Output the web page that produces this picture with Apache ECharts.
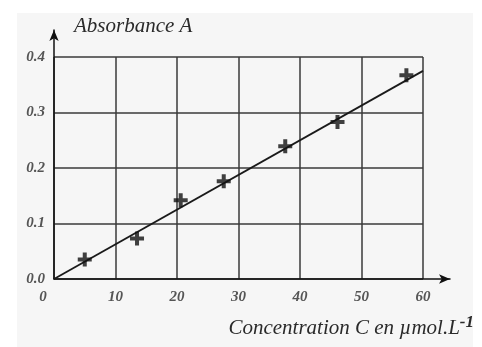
<!DOCTYPE html>
<html>
<head>
<meta charset="utf-8">
<script src="https://cdn.jsdelivr.net/npm/echarts@6/dist/echarts.min.js"></script>
<style>
  html, body { margin: 0; padding: 0; background: #fff; }
  #chart { width: 482px; height: 347px; }
</style>
</head>
<body>
<div id="chart"></div>
<script>
// measured points
var concentration = [5.0, 13.5, 20.6, 27.6, 37.6, 46.1, 57.3];
var absorbance = [0.035, 0.073, 0.142, 0.176, 0.239, 0.283, 0.367];
// straight line through the origin
var fitC = [0, 60];
var fitA = [0, 0.375];
var xTicks = [0, 10, 20, 30, 40, 50, 60];
var yTicks = [0.0, 0.1, 0.2, 0.3, 0.4];

var serif = '"Liberation Serif", "DejaVu Serif", serif';
var plus = 'path://M5,0H9V5H14V9H9V14H5V9H0V5H5Z';

var chart = echarts.init(document.getElementById('chart'));

var points = concentration.map(function (c, i) { return [c, absorbance[i]]; });
var fit = fitC.map(function (c, i) { return [c, fitA[i]]; });

var tickFont = { color: '#555', fontFamily: serif, fontStyle: 'italic', fontWeight: 'bold', fontSize: 15 };

var option = {
  animation: false,
  graphic: [
    {
      type: 'rect', z: -10, silent: true,
      shape: { x: 17, y: 13, width: 456, height: 334 },
      style: { fill: '#f6f6f6' }
    },
    {
      type: 'text', left: 74, top: 16,
      style: { text: 'Absorbance A', font: 'italic 21px ' + serif, fill: '#2a2a2a' }
    },
    {
      type: 'text', right: 8, top: 314,
      style: {
        text: 'Concentration C en µmol.L{sup|-1}',
        font: 'italic 21px ' + serif, fill: '#2a2a2a',
        rich: { sup: { fontSize: 17, fontStyle: 'italic', fontWeight: 'bold', fontFamily: serif, fill: '#2a2a2a', padding: [0, 0, 12, 0] } }
      }
    }
  ],
  grid: [
    { left: 54, right: 59, top: 57, bottom: 68 },
    { left: 54, right: 32, top: 30, bottom: 68 }
  ],
  xAxis: [
    {
      gridIndex: 0, type: 'value', min: xTicks[0], max: xTicks[xTicks.length - 1], interval: 10,
      axisLine: { show: false }, axisTick: { show: false },
      splitLine: { show: true, lineStyle: { color: '#3a3a3a', width: 1.5 } },
      axisLabel: Object.assign({
        margin: 11,
        formatter: function (v) { return v === 0 ? '{z|0}' : String(v); },
        rich: { z: Object.assign({ padding: [0, 22, 0, 0] }, tickFont) }
      }, tickFont)
    },
    {
      gridIndex: 1, type: 'value', min: 0, max: 1,
      axisLine: { show: true, symbol: ['none', 'arrow'], symbolSize: [7, 11], lineStyle: { color: '#111', width: 1.5 } },
      axisTick: { show: false }, axisLabel: { show: false }, splitLine: { show: false }
    }
  ],
  yAxis: [
    {
      gridIndex: 0, type: 'value', min: yTicks[0], max: yTicks[yTicks.length - 1], interval: 0.1,
      axisLine: { show: false }, axisTick: { show: false },
      splitLine: { show: true, lineStyle: { color: '#3a3a3a', width: 1.5 } },
      axisLabel: Object.assign({
        margin: 9,
        formatter: function (v) { return v.toFixed(1); }
      }, tickFont)
    },
    {
      gridIndex: 1, type: 'value', min: 0, max: 1,
      axisLine: { show: true, symbol: ['none', 'arrow'], symbolSize: [7, 11], lineStyle: { color: '#111', width: 1.5 } },
      axisTick: { show: false }, axisLabel: { show: false }, splitLine: { show: false }
    }
  ],
  series: [
    {
      type: 'line', xAxisIndex: 0, yAxisIndex: 0,
      data: fit, showSymbol: false, silent: true,
      lineStyle: { color: '#1a1a1a', width: 1.8 }, z: 3
    },
    {
      type: 'scatter', xAxisIndex: 0, yAxisIndex: 0,
      data: points, symbol: plus, symbolSize: 14,
      itemStyle: { color: '#111' }, z: 4
    }
  ]
};

chart.setOption(option);
</script>
</body>
</html>
